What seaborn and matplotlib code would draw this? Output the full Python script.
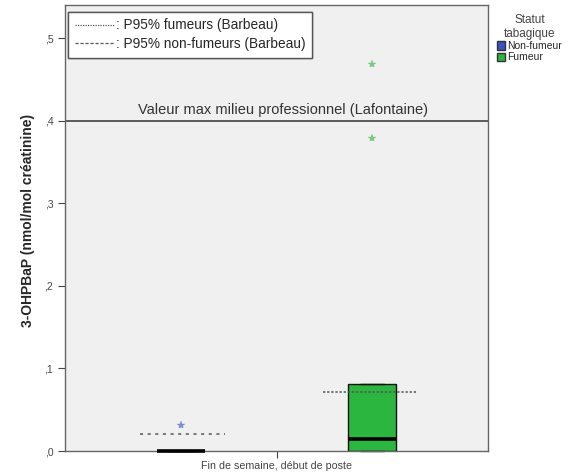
import numpy as np
import pandas as pd
import seaborn as sns
import matplotlib.pyplot as plt
from matplotlib.lines import Line2D
from matplotlib.patches import Patch

# === data ===
moment = "Fin de semaine, début de poste"
statuts = ["Non-fumeur", "Fumeur"]
valeurs_non_fumeur = [0, 0, 0, 0, 0, 0, 0, 0.031]
valeurs_fumeur = [0, 0, 0, 0, 0.015, 0.015, 0.015, 0.081, 0.081, 0.379, 0.469]
p95_non_fumeur = 0.020   # Barbeau
p95_fumeur = 0.071       # Barbeau
valeur_max_pro = 0.40    # Lafontaine
y_ticks = [0, 0.1, 0.2, 0.3, 0.4, 0.5]
y_labels = [",0", ",1", ",2", ",3", ",4", ",5"]

couleurs = {"Non-fumeur": "#3a52c4", "Fumeur": "#2bb63f"}

df = pd.DataFrame({
    "Moment": moment,
    "Statut": ["Non-fumeur"] * len(valeurs_non_fumeur) + ["Fumeur"] * len(valeurs_fumeur),
    "Valeur": valeurs_non_fumeur + valeurs_fumeur,
})

sns.set_style("white")
plt.rcParams["font.family"] = ["Liberation Sans", "DejaVu Sans"]

fig = plt.figure(figsize=(5.78, 4.75), dpi=100)
ax = fig.add_axes([0.1125, 0.0505, 0.7318, 0.939])
ax.set_facecolor("#f0f0f0")

sns.boxplot(data=df, x="Moment", y="Valeur", hue="Statut", hue_order=statuts,
            palette=couleurs, width=0.904, gap=0.749, whis=1.5, saturation=1,
            linecolor="#111111", linewidth=1.0, legend=False, ax=ax,
            medianprops={"linewidth": 2.6, "color": "black"},
            flierprops={"marker": "*", "markersize": 6, "markeredgewidth": 0.3})

# color the outliers like their box, let the zero-height box show on the axis
for line in ax.lines:
    line.set_clip_on(False)
    if line.get_linewidth() > 2:
        line.set_zorder(4)
for line, st in zip([l for l in ax.lines if l.get_marker() == "*"], statuts):
    line.set_markerfacecolor(couleurs[st])
    line.set_markeredgecolor(couleurs[st])
    line.set_alpha(0.6)

ax.set_xlim(-0.5, 0.5)
ax.set_ylim(0, 0.54)

# reference lines
ax.axhline(valeur_max_pro, color="#333333", linewidth=1.1)
ax.text(0.015, valeur_max_pro + 0.004, "Valeur max milieu professionnel (Lafontaine)",
        ha="center", va="bottom", fontsize=10.5, color="#333333")
ax.hlines(p95_non_fumeur, -0.323, -0.122, colors="#555555", linestyles=(0, (2, 3)), linewidth=1.1)
ax.hlines(p95_fumeur, 0.110, 0.332, colors="#555555", linestyles=(0, (1.5, 1.2)), linewidth=1.1)

# axes cosmetics
ax.set_yticks(y_ticks)
ax.set_yticklabels(y_labels)
ax.tick_params(axis="both", direction="out", length=5, width=0.8, colors="#444444",
               labelsize=7.5, left=True, bottom=True)
ax.tick_params(axis="x", labelsize=7.7, pad=2)
for s in ax.spines.values():
    s.set_color("#666666")
    s.set_linewidth(1.0)
ax.set_xlabel("")
ax.set_ylabel("3-OHPBaP (nmol/mol créatinine)", fontsize=10, fontweight="bold")
ax.yaxis.set_label_coords(-0.071, 0.518)

# legend of the reference lines (inside, top-left)
handles = [Line2D([], [], color="#555555", linestyle=(0, (1, 1)), linewidth=0.9),
           Line2D([], [], color="#555555", linestyle=(0, (2.5, 1.5)), linewidth=0.9)]
leg1 = ax.legend(handles, [": P95% fumeurs (Barbeau)", ": P95% non-fumeurs (Barbeau)"],
                 loc="upper left", bbox_to_anchor=(0.007, 0.985), borderaxespad=0,
                 fontsize=9.8, handlelength=2.9, handletextpad=0.1, frameon=True,
                 fancybox=False, edgecolor="#555555", framealpha=1, borderpad=0.5,
                 labelspacing=0.35)
leg1.get_frame().set_linewidth(1.0)
ax.add_artist(leg1)

# legend of the hue, outside right
patches = [Patch(facecolor=couleurs[s], edgecolor="#333333", label=s) for s in statuts]
leg2 = fig.legend(handles=patches, title="Statut\ntabagique", loc="upper left",
                  bbox_to_anchor=(0.848, 0.985), fontsize=7.5, title_fontsize=8.5,
                  frameon=False, handlelength=0.75, handleheight=0.85,
                  handletextpad=0.15, labelspacing=0.1, borderpad=0.2,
                  alignment="center")
leg2.get_title().set_color("#444444")
leg2.get_title().set_multialignment("center")

fig.savefig("out.png", dpi=100)
